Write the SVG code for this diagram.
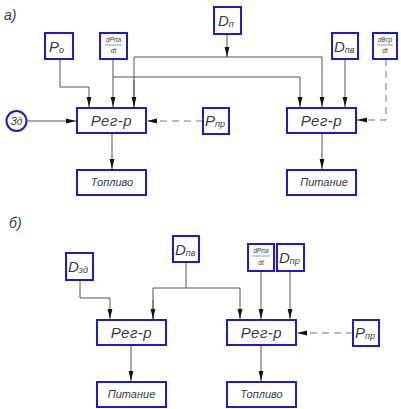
<svg xmlns="http://www.w3.org/2000/svg" width="401" height="409" viewBox="0 0 401 409">
<defs>
<style>
.box{fill:#fff;stroke:#1a1ad0;stroke-width:2}
.ln{fill:none;stroke:#555;stroke-width:1}
.dash{fill:none;stroke:#777;stroke-width:1;stroke-dasharray:7 5}
text{font-family:"Liberation Sans",Arial,sans-serif;font-style:italic;fill:#3a3a3a}
.big{font-size:15px;letter-spacing:0.5px}
.mid{font-size:11px}
.sym{font-size:15px}
.sub{font-size:9px}
.fr{font-size:6.5px}
.lab{font-size:14px}
</style>
<marker id="ar" viewBox="0 0 10 6" refX="10" refY="3" markerWidth="10" markerHeight="6" markerUnits="userSpaceOnUse" orient="auto">
<path d="M0,0.6 L10,3 L0,5.4 Z" fill="#111"/>
</marker>
</defs>
<rect width="401" height="409" fill="#fff"/>
<text class="lab" x="4" y="20">а)</text>
<text class="lab" x="9" y="228">б)</text>

<g id="connectors">
<polyline class="ln" points="60,59 60,87 89,87 89,107" marker-end="url(#ar)"/>
<line class="ln" x1="113" y1="59" x2="113" y2="107" marker-end="url(#ar)"/>
<polyline class="ln" points="113,77 300,77 300,107" marker-end="url(#ar)"/>
<line class="ln" x1="227" y1="34" x2="227" y2="57" marker-end="url(#ar)"/>
<polyline class="ln" points="134,107 134,57 322,57 322,107" marker-end="url(#ar)"/>
<path class="ln" d="M134,80 L134,107" marker-end="url(#ar)"/>
<line class="ln" x1="345" y1="59" x2="345" y2="107" marker-end="url(#ar)"/>
<polyline class="dash" points="386,59 386,120 357,120" marker-end="url(#ar)"/>
<line class="ln" x1="27" y1="121" x2="76" y2="121" marker-end="url(#ar)"/>
<line class="dash" x1="203" y1="121" x2="147" y2="121" marker-end="url(#ar)"/>
<line class="ln" x1="112" y1="133" x2="112" y2="169" marker-end="url(#ar)"/>
<line class="ln" x1="322" y1="133" x2="322" y2="169" marker-end="url(#ar)"/>
<polyline class="ln" points="80,280 80,298 110,298 110,319" marker-end="url(#ar)"/>
<line class="ln" x1="186" y1="262" x2="186" y2="288"/>
<polyline class="ln" points="153,319 153,288 240,288 240,319" marker-end="url(#ar)"/>
<path class="ln" d="M153,300 L153,319" marker-end="url(#ar)"/>
<line class="ln" x1="261" y1="271" x2="261" y2="319" marker-end="url(#ar)"/>
<line class="ln" x1="290" y1="271" x2="290" y2="319" marker-end="url(#ar)"/>
<line class="dash" x1="353" y1="333" x2="297" y2="333" marker-end="url(#ar)"/>
<line class="ln" x1="131" y1="345" x2="131" y2="381" marker-end="url(#ar)"/>
<line class="ln" x1="261" y1="345" x2="261" y2="381" marker-end="url(#ar)"/>
</g>

<g id="Po"><rect class="box" x="45" y="33" width="28" height="26"/><text x="49" y="52"><tspan class="sym">P</tspan><tspan class="sub" dy="1">о</tspan></text></g>
<g id="dPpa1"><rect class="box" x="100" y="33" width="27" height="26"/><text class="fr" x="113.5" y="42" text-anchor="middle">dPпа</text><line x1="105" y1="45" x2="122" y2="45" stroke="#555" stroke-width="0.6"/><text class="fr" x="113.5" y="53" text-anchor="middle">dt</text></g>
<g id="Dn"><rect class="box" x="214" y="7" width="27" height="27"/><text x="218" y="26"><tspan class="sym">D</tspan><tspan class="sub" dy="1">п</tspan></text></g>
<g id="Dnv1"><rect class="box" x="332" y="33" width="26" height="26"/><text x="334" y="52"><tspan class="sym">D</tspan><tspan class="sub" dy="1">пв</tspan></text></g>
<g id="dTheta"><rect class="box" x="373" y="33" width="24" height="26"/><text class="fr" x="385" y="42" text-anchor="middle">dθср</text><line x1="377" y1="45" x2="393" y2="45" stroke="#555" stroke-width="0.6"/><text class="fr" x="385" y="53" text-anchor="middle">dt</text></g>
<g id="Zd"><circle cx="16.5" cy="121" r="10" fill="#fff" stroke="#1a1ad0" stroke-width="2"/><text x="16.5" y="125" text-anchor="middle" style="font-size:10px">Зд</text></g>
<g id="Reg1"><rect class="box" x="77" y="108" width="69" height="25"/><text class="big" x="111.5" y="126" text-anchor="middle">Рег-р</text></g>
<g id="Pnp1"><rect class="box" x="203" y="108" width="26" height="26"/><text x="205" y="126"><tspan class="sym">P</tspan><tspan class="sub" dy="1">пр</tspan></text></g>
<g id="Reg2"><rect class="box" x="287" y="108" width="69" height="25"/><text class="big" x="321.5" y="126" text-anchor="middle">Рег-р</text></g>
<g id="Top1"><rect class="box" x="77" y="170" width="69" height="25"/><text class="mid" x="112" y="186" text-anchor="middle">Топливо</text></g>
<g id="Pit1"><rect class="box" x="287" y="170" width="69" height="25"/><text class="mid" x="324" y="186" text-anchor="middle">Питание</text></g>

<g id="Dzd"><rect class="box" x="66" y="253" width="27" height="27"/><text x="68" y="272"><tspan class="sym">D</tspan><tspan class="sub" dy="1">зд</tspan></text></g>
<g id="Dnv2"><rect class="box" x="173" y="236" width="26" height="26"/><text x="175" y="255"><tspan class="sym">D</tspan><tspan class="sub" dy="1">пв</tspan></text></g>
<g id="dPpa2"><rect class="box" x="248" y="244" width="26" height="27"/><text class="fr" x="261" y="253" text-anchor="middle">dPпа</text><line x1="252" y1="256" x2="270" y2="256" stroke="#555" stroke-width="0.6"/><text class="fr" x="261" y="265" text-anchor="middle">dt</text></g>
<g id="Dnp"><rect class="box" x="277" y="244" width="27" height="27"/><text x="279" y="263"><tspan class="sym">D</tspan><tspan class="sub" dy="1">пр</tspan></text></g>
<g id="Reg3"><rect class="box" x="97" y="320" width="69" height="25"/><text class="big" x="131.5" y="338" text-anchor="middle">Рег-р</text></g>
<g id="Reg4"><rect class="box" x="227" y="320" width="69" height="25"/><text class="big" x="261.5" y="338" text-anchor="middle">Рег-р</text></g>
<g id="Pnp2"><rect class="box" x="353" y="320" width="26" height="26"/><text x="355" y="338"><tspan class="sym">P</tspan><tspan class="sub" dy="1">пр</tspan></text></g>
<g id="Pit2"><rect class="box" x="97" y="382" width="69" height="25"/><text class="mid" x="131.5" y="398" text-anchor="middle">Питание</text></g>
<g id="Top2"><rect class="box" x="227" y="382" width="69" height="25"/><text class="mid" x="261.5" y="398" text-anchor="middle">Топливо</text></g>
</svg>
